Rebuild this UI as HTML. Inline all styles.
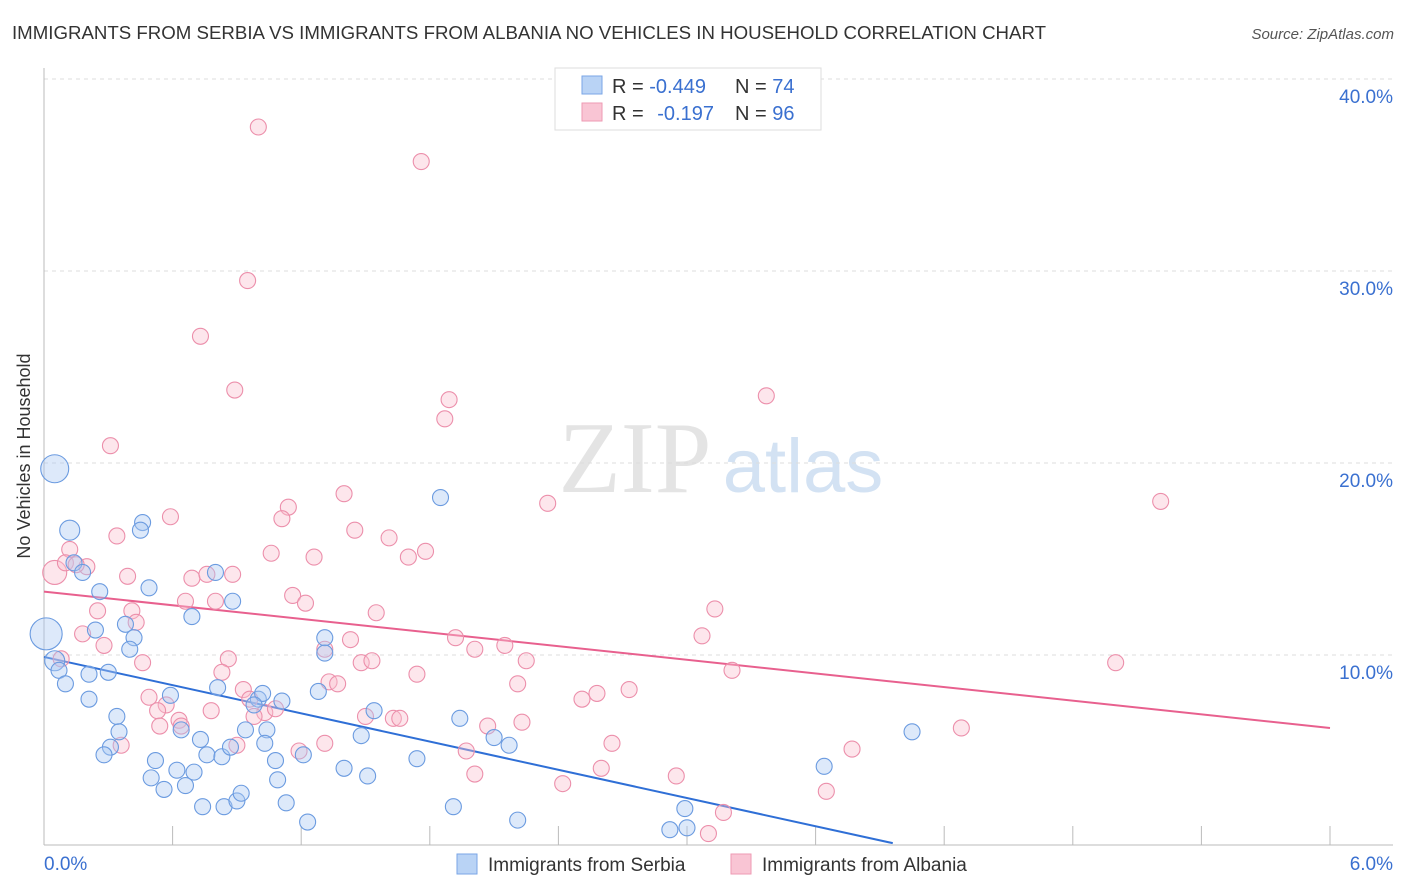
<!DOCTYPE html>
<html><head><meta charset="utf-8">
<style>
body{margin:0;background:#fff;font-family:"Liberation Sans",sans-serif;}
#wrap{position:relative;width:1406px;height:892px;overflow:hidden;}
</style></head>
<body>
<div id="wrap">
<svg id="chart" width="1406" height="892">
<text x="12" y="39" font-size="18" fill="#333" textLength="1034" lengthAdjust="spacingAndGlyphs">IMMIGRANTS FROM SERBIA VS IMMIGRANTS FROM ALBANIA NO VEHICLES IN HOUSEHOLD CORRELATION CHART</text>
<text x="1394" y="39" font-size="15" fill="#555" font-style="italic" text-anchor="end">Source: ZipAtlas.com</text>
<text x="30" y="456" font-size="18" fill="#333" text-anchor="middle" transform="rotate(-90 30 456)">No Vehicles in Household</text>
<g>
<text x="635" y="492" font-size="102" fill="#e4e4e4" font-family="Liberation Serif,serif" text-anchor="middle">ZIP</text>
<text x="803" y="492" font-size="76" fill="#d3e2f3" text-anchor="middle">atlas</text>
</g>
<g id="grid"></g>
<g id="axes"></g>
<g id="lines"></g>
<g id="pts"></g>
<g>
<rect x="555" y="68" width="266" height="62" fill="#fff" stroke="#ddd"/>
<rect x="582" y="76" width="20" height="18" fill="#b9d3f5" stroke="#7aa6e6"/>
<rect x="582" y="103" width="20" height="18" fill="#f9c5d4" stroke="#ee9ab3"/>
<text x="612" y="93" font-size="20" fill="#333">R = <tspan fill="#3a70d0">-0.449</tspan></text>
<text x="735" y="93" font-size="20" fill="#333">N = <tspan fill="#3a70d0">74</tspan></text>
<text x="612" y="120" font-size="20" fill="#333">R = <tspan fill="#3a70d0" dx="8">-0.197</tspan></text>
<text x="735" y="120" font-size="20" fill="#333">N = <tspan fill="#3a70d0">96</tspan></text>
</g>
<g>
<rect x="457" y="854" width="20" height="20" fill="#b9d3f5" stroke="#7aa6e6"/>
<text x="488" y="871" font-size="19" fill="#333">Immigrants from Serbia</text>
<rect x="731" y="854" width="20" height="20" fill="#f9c5d4" stroke="#ee9ab3"/>
<text x="762" y="871" font-size="19" fill="#333">Immigrants from Albania</text>
</g>
</svg>
</div>
<script>
const yTicks=[10,20,30,40];
const yTickLabels=["10.0%","20.0%","30.0%","40.0%"];
const xTickLabels=["0.0%","6.0%"];
const serbiaX=[0.05,0.12,0.46,0.45,1.85,0.14,0.18,0.26,0.49,0.80,0.88,0.69,0.24,0.38,0.42,0.40,0.01,0.05,0.07,0.10,0.21,0.30,0.21,0.34,0.35,0.31,0.28,0.52,0.50,0.59,0.64,0.73,0.62,0.70,0.56,0.66,0.74,0.84,0.90,0.92,0.81,0.76,0.83,0.87,0.94,1.0,1.02,0.98,1.11,1.04,1.03,1.08,1.09,1.13,1.21,1.23,1.28,1.31,1.31,1.40,1.48,1.51,1.54,1.74,1.91,1.94,2.10,2.17,2.21,2.92,2.99,3.00,3.64,4.05];
const serbiaY=[19.7,16.5,16.9,16.5,18.2,14.8,14.3,13.3,13.5,14.3,12.8,12.0,11.3,11.6,10.9,10.3,11.1,9.7,9.2,8.5,9.0,9.1,7.7,6.8,6.0,5.2,4.8,4.5,3.6,7.9,6.1,5.6,4.0,3.9,3.0,3.2,2.1,2.1,2.4,2.8,8.3,4.8,4.7,5.2,6.1,7.7,8.0,7.4,7.6,6.1,5.4,4.5,3.5,2.3,4.8,1.3,8.1,10.9,10.1,4.1,5.8,3.7,7.1,4.6,2.1,6.7,5.7,5.3,1.4,0.9,2.0,1.0,4.2,6.0];
const serbiaR=[14,10,8,8,8,8,8,8,8,8,8,8,8,8,8,8,16,10,8,8,8,8,8,8,8,8,8,8,8,8,8,8,8,8,8,8,8,8,8,8,8,8,8,8,8,8,8,8,8,8,8,8,8,8,8,8,8,8,8,8,8,8,8,8,8,8,8,8,8,8,8,8,8,8];
const albaniaX=[1.0,1.76,0.95,0.73,0.89,1.89,1.87,3.37,0.31,1.40,2.35,5.21,1.14,1.11,0.59,1.45,0.34,1.61,1.78,1.70,1.06,1.26,0.12,0.05,0.10,0.20,0.15,0.39,0.69,0.76,0.88,1.16,1.22,0.66,0.80,0.25,0.41,0.43,1.55,3.13,0.18,0.28,1.43,1.92,2.15,2.01,1.31,3.07,0.08,0.46,0.86,1.48,1.53,2.25,5.0,0.83,1.74,3.21,1.33,1.37,2.21,0.93,2.73,2.58,2.51,0.49,0.57,0.53,0.78,0.96,1.03,1.08,0.63,0.64,0.54,0.98,1.50,1.63,1.66,2.07,2.23,4.28,0.90,0.36,1.31,1.19,1.97,2.65,3.77,2.01,2.60,2.95,2.42,3.65,3.17,3.10];
const albaniaY=[37.5,35.7,29.5,26.6,23.8,23.3,22.3,23.5,20.9,18.4,17.9,18.0,17.7,17.1,17.2,16.5,16.2,16.1,15.4,15.1,15.3,15.1,15.5,14.3,14.8,14.6,14.7,14.1,14.0,14.2,14.2,13.1,12.7,12.8,12.8,12.3,12.3,11.7,12.2,12.4,11.1,10.5,10.8,10.9,10.5,10.3,10.3,11.0,9.8,9.6,9.8,9.6,9.7,9.7,9.6,9.1,9.0,9.2,8.6,8.5,8.5,8.2,8.2,8.0,7.7,7.8,7.4,7.1,7.1,7.7,7.0,7.2,6.6,6.3,6.3,6.8,6.8,6.7,6.7,6.3,6.5,6.2,5.3,5.3,5.4,5.0,5.0,5.4,5.1,3.8,4.1,3.7,3.3,2.9,1.8,0.7];
const albaniaR=albaniaX.map((v,i)=>i===23?12:8);
const serbiaTrend=[[0,9.9],[3.96,0.2]];
const albaniaTrend=[[0,13.3],[6.0,6.2]];

const X0=44,X1=1330,Y0=847,Ytop=79;
const xs=v=>X0+(X1-X0)*v/6;
const ys=v=>Y0-(Y0-Ytop)*v/40;
const NS="http://www.w3.org/2000/svg";
function mk(tag,attrs,parent){const e=document.createElementNS(NS,tag);for(const k in attrs)e.setAttribute(k,attrs[k]);parent.appendChild(e);return e;}
const grid=document.getElementById('grid'),axes=document.getElementById('axes'),lines=document.getElementById('lines'),pts=document.getElementById('pts');
yTicks.forEach((t,i)=>{
  const l=mk('line',{x1:X0,x2:1393,y1:ys(t),y2:ys(t),stroke:'#ddd','stroke-dasharray':'4 4'},grid);
  
  
  const tx=mk('text',{x:1393,y:ys(t)+24,'font-size':19,fill:'#3a70d0','text-anchor':'end'},axes);
  tx.textContent=yTickLabels[i];
  
  
});
const ax=mk('line',{x1:X0,x2:1393,y1:845,y2:845,stroke:'#bbb'},axes);


const ay=mk('line',{x1:X0,x2:X0,y1:68,y2:845,stroke:'#bbb'},axes);


for(let i=1;i<=10;i++){
  const tk=mk('line',{x1:xs(i*0.6),x2:xs(i*0.6),y1:826,y2:845,stroke:'#bbb'},axes);
  
  
}
const xl0=mk('text',{x:44,y:870,'font-size':19,fill:'#3a70d0'},axes);xl0.textContent=xTickLabels[0];


const xl1=mk('text',{x:1393,y:870,'font-size':19,fill:'#3a70d0','text-anchor':'end'},axes);xl1.textContent=xTickLabels[1];


function dots(X,Y,R,fill,stroke,name){X.forEach((v,i)=>{const c=mk('circle',{cx:xs(v),cy:ys(Y[i]),r:R[i],fill:fill,'fill-opacity':0.4,stroke:stroke,'stroke-width':1.1},pts);
  
  });}
dots(albaniaX,albaniaY,albaniaR,'#f9c0d0','#ec8fab','albania-point');
dots(serbiaX,serbiaY,serbiaR,'#a9c8f2','#6b9be0','serbia-point');
const t1=mk('line',{x1:xs(serbiaTrend[0][0]),y1:ys(serbiaTrend[0][1]),x2:xs(serbiaTrend[1][0]),y2:ys(serbiaTrend[1][1]),stroke:'#2f6fd6','stroke-width':2},lines);


const t2=mk('line',{x1:xs(albaniaTrend[0][0]),y1:ys(albaniaTrend[0][1]),x2:xs(albaniaTrend[1][0]),y2:ys(albaniaTrend[1][1]),stroke:'#e8608e','stroke-width':2},lines);


</script>
</body></html>
